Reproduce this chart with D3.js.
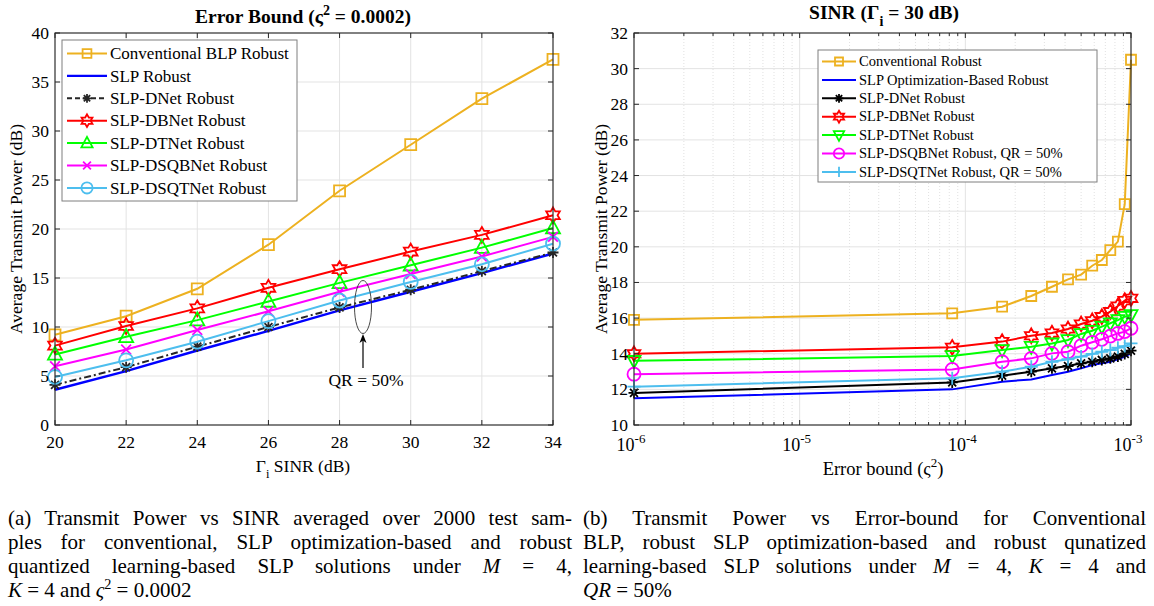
<!DOCTYPE html>
<html><head><meta charset="utf-8">
<script src="https://cdn.jsdelivr.net/npm/d3@7"></script>
<style>
body{margin:0;background:#fff}
svg{display:block}
text{font-family:"Liberation Serif","Times New Roman",serif;fill:#000}
</style>
</head><body>
<svg id="fig" width="1154" height="606"></svg>
<script>
// ---------- Panel (a): transmit power vs SINR, error bound 0.0002 ----------
const sinrDb = [20, 22, 24, 26, 28, 30, 32, 34];
const convBlpA = [9.2, 11.1, 13.9, 18.4, 23.9, 28.6, 33.3, 37.3];
const slpA     = [3.6, 5.5, 7.6, 9.6, 11.7, 13.6, 15.5, 17.5];
const dnetA    = [4.1, 5.9, 8.0, 10.0, 12.0, 13.8, 15.7, 17.6];
const dbnetA   = [8.1, 10.1, 11.9, 14.0, 15.9, 17.7, 19.4, 21.4];
const dtnetA   = [7.2, 9.0, 10.7, 12.6, 14.5, 16.3, 18.1, 20.1];
const dsqbA    = [6.0, 7.7, 9.7, 11.6, 13.6, 15.4, 17.2, 19.2];
const dsqtA    = [4.9, 6.6, 8.5, 10.6, 12.7, 14.6, 16.4, 18.5];
const yTicksA  = [0, 5, 10, 15, 20, 25, 30, 35, 40];

// ---------- Panel (b): transmit power vs error bound, SINR 30 dB ----------
const errBound = [1e-6, 8.333e-5, 1.667e-4, 2.5e-4, 3.333e-4, 4.167e-4, 5e-4,
                  5.833e-4, 6.667e-4, 7.5e-4, 8.333e-4, 9.167e-4, 1e-3];
const convB  = [15.9, 16.27, 16.64, 17.24, 17.76, 18.17, 18.44, 18.94, 19.26, 19.82, 20.29, 22.4, 30.5];
const slpB   = [11.5, 12.0, 12.43, 12.56, 12.81, 12.99, 13.18, 13.37, 13.46, 13.55, 13.69, 13.84, 14.02];
const dnetB  = [11.8, 12.39, 12.77, 12.99, 13.18, 13.31, 13.46, 13.55, 13.65, 13.74, 13.84, 13.99, 14.17];
const dbnetB = [14.0, 14.36, 14.68, 15.01, 15.16, 15.39, 15.67, 15.85, 16.08, 16.36, 16.68, 16.98, 17.11];
const dtnetB = [13.6, 13.87, 14.21, 14.39, 14.58, 14.77, 15.11, 15.29, 15.52, 15.71, 15.89, 16.08, 16.17];
const dsqbB  = [12.85, 13.12, 13.55, 13.74, 14.02, 14.11, 14.45, 14.64, 14.81, 14.99, 15.14, 15.24, 15.43];
const dsqtB  = [12.15, 12.62, 12.99, 13.27, 13.55, 13.69, 13.84, 13.99, 14.11, 14.21, 14.34, 14.43, 14.58];
const yTicksB = [10, 12, 14, 16, 18, 20, 22, 24, 26, 28, 30, 32];
const xTicksB = [1e-6, 1e-5, 1e-4, 1e-3];

const C = {
  orange: "#EDB120", blue: "#0000FF", black: "#000000", dark: "#262626",
  red: "#FF0000", green: "#00FF00", magenta: "#FF00FF", cyan: "#4DBEEE"
};

const svg = d3.select("#fig");

// ---------- marker shapes (outline only) ----------
function markerPath(type, s) {
  const p = d3.path();
  const r = s / 2;
  if (type === "square") { p.rect(-r, -r, s, s); }
  else if (type === "circle") { p.arc(0, 0, r, 0, 2 * Math.PI); }
  else if (type === "triUp" || type === "triDown") {
    const k = type === "triUp" ? 1 : -1;
    p.moveTo(0, -k * r * 1.1); p.lineTo(r, k * r * 0.75); p.lineTo(-r, k * r * 0.75); p.closePath();
  }
  else if (type === "hexagram") {
    const R = r * 1.05, ri = R / Math.sqrt(3);
    for (let i = 0; i < 12; i++) {
      const a = -Math.PI / 2 + i * Math.PI / 6;
      const rr = i % 2 === 0 ? R : ri;
      const x = rr * Math.cos(a), y = rr * Math.sin(a);
      if (i === 0) p.moveTo(x, y); else p.lineTo(x, y);
    }
    p.closePath();
  }
  else if (type === "x") {
    const q = r * 0.75;
    p.moveTo(-q, -q); p.lineTo(q, q); p.moveTo(-q, q); p.lineTo(q, -q);
  }
  else if (type === "plus") {
    p.moveTo(-r, 0); p.lineTo(r, 0); p.moveTo(0, -r); p.lineTo(0, r);
  }
  else if (type === "asterisk") {
    const q = r * 0.72;
    p.moveTo(-r, 0); p.lineTo(r, 0); p.moveTo(0, -r); p.lineTo(0, r);
    p.moveTo(-q, -q); p.lineTo(q, q); p.moveTo(-q, q); p.lineTo(q, -q);
  }
  return p.toString();
}

// ---------- generic axes drawing ----------
function drawPanel(cfg) {
  const g = svg.append("g");
  const { x, y, left, right, top, bottom } = cfg;

  // grid
  if (cfg.minorX) {
    g.selectAll(".gmx").data(cfg.minorX).join("line")
      .attr("x1", d => x(d)).attr("x2", d => x(d)).attr("y1", top).attr("y2", bottom)
      .attr("stroke", "#d9d9d9").attr("stroke-width", 0.8).attr("stroke-dasharray", "1,2");
  }
  g.selectAll(".gx").data(cfg.xTicks).join("line")
    .attr("x1", d => x(d)).attr("x2", d => x(d)).attr("y1", top).attr("y2", bottom)
    .attr("stroke", "#e3e3e3").attr("stroke-width", 1);
  g.selectAll(".gy").data(cfg.yTicks).join("line")
    .attr("x1", left).attr("x2", right).attr("y1", d => y(d)).attr("y2", d => y(d))
    .attr("stroke", "#e3e3e3").attr("stroke-width", 1);

  // series
  cfg.series.forEach(s => {
    const pts = cfg.xs.map((xv, i) => [x(xv), y(s.values[i])]);
    g.append("path").attr("d", d3.line()(pts))
      .attr("fill", "none").attr("stroke", s.color).attr("stroke-width", s.width || 2)
      .attr("stroke-dasharray", s.dash || null);
    if (s.marker) {
      g.selectAll(null).data(pts).join("path")
        .attr("transform", d => `translate(${d[0]},${d[1]})`)
        .attr("d", markerPath(s.marker, s.msize || 11))
        .attr("fill", "none").attr("stroke", s.mcolor || s.color).attr("stroke-width", 1.8);
    }
  });

  // box + ticks
  const ax = g.append("g");
  ax.append("rect").attr("x", left).attr("y", top).attr("width", right - left).attr("height", bottom - top)
    .attr("fill", "none").attr("stroke", "#262626").attr("stroke-width", 1.1);
  const tl = 5;
  const xt = cfg.xTicks.concat(cfg.minorTickX || []);
  xt.forEach(d => {
    const len = cfg.xTicks.includes(d) ? tl : 3;
    ax.append("line").attr("x1", x(d)).attr("x2", x(d)).attr("y1", bottom).attr("y2", bottom - len).attr("stroke", "#262626");
    ax.append("line").attr("x1", x(d)).attr("x2", x(d)).attr("y1", top).attr("y2", top + len).attr("stroke", "#262626");
  });
  cfg.yTicks.forEach(d => {
    ax.append("line").attr("x1", left).attr("x2", left + tl).attr("y1", y(d)).attr("y2", y(d)).attr("stroke", "#262626");
    ax.append("line").attr("x1", right).attr("x2", right - tl).attr("y1", y(d)).attr("y2", y(d)).attr("stroke", "#262626");
  });
  // y tick labels
  ax.selectAll(".yl").data(cfg.yTicks).join("text")
    .attr("x", left - 6).attr("y", d => y(d) + 6).attr("text-anchor", "end")
    .style("font-size", "17.5px").text(d => d);
  return g;
}

// ---------- panel (a) ----------
const xA = d3.scaleLinear().domain([20, 34]).range([55, 553]);
const yA = d3.scaleLinear().domain([0, 40]).range([425, 33]);
const seriesA = [
  { name: "Conventional BLP Robust", values: convBlpA, color: C.orange, marker: "square", msize: 11 },
  { name: "SLP Robust", values: slpA, color: C.blue, width: 2.4 },
  { name: "SLP-DNet Robust", values: dnetA, color: C.dark, dash: "7,3,2,3", marker: "asterisk", msize: 11, width: 2 },
  { name: "SLP-DBNet Robust", values: dbnetA, color: C.red, marker: "hexagram", msize: 15 },
  { name: "SLP-DTNet Robust", values: dtnetA, color: C.green, marker: "triUp", msize: 14 },
  { name: "SLP-DSQBNet Robust", values: dsqbA, color: C.magenta, marker: "x", msize: 13 },
  { name: "SLP-DSQTNet Robust", values: dsqtA, color: C.cyan, marker: "circle", msize: 14 }
];
const gA = drawPanel({ x: xA, y: yA, left: 55, right: 553, top: 33, bottom: 425,
  xs: sinrDb, xTicks: sinrDb, yTicks: yTicksA, series: seriesA });
gA.selectAll(".xl").data(sinrDb).join("text")
  .attr("x", d => xA(d)).attr("y", 448).attr("text-anchor", "middle")
  .style("font-size", "17.5px").text(d => d);

// ellipse + arrow annotation for the quantized group
gA.append("ellipse").attr("cx", 363).attr("cy", 307).attr("rx", 8.5).attr("ry", 26.5)
  .attr("fill", "none").attr("stroke", "#333").attr("stroke-width", 0.9);
gA.append("line").attr("x1", 363).attr("x2", 363).attr("y1", 368).attr("y2", 338)
  .attr("stroke", "#000").attr("stroke-width", 1.2);
gA.append("path").attr("d", "M363,334 L359.5,343 L363,340.5 L366.5,343 Z").attr("fill", "#000");
gA.append("text").attr("x", 366).attr("y", 386).attr("text-anchor", "middle")
  .style("font-size", "17.5px").text("QR = 50%");

// ---------- panel (b) ----------
const xB = d3.scaleLog().domain([1e-6, 1e-3]).range([634, 1131]);
const yB = d3.scaleLinear().domain([10, 32]).range([425, 33]);
const minorB = [];
[1e-6, 1e-5, 1e-4].forEach(dec => { for (let k = 2; k <= 9; k++) minorB.push(dec * k); });
const seriesB = [
  { name: "Conventional Robust", values: convB, color: C.orange, marker: "square", msize: 10 },
  { name: "SLP Optimization-Based Robust", values: slpB, color: C.blue, width: 2 },
  { name: "SLP-DNet Robust", values: dnetB, color: C.black, marker: "asterisk", msize: 11 },
  { name: "SLP-DBNet Robust", values: dbnetB, color: C.red, marker: "hexagram", msize: 14 },
  { name: "SLP-DTNet Robust", values: dtnetB, color: C.green, marker: "triDown", msize: 13 },
  { name: "SLP-DSQBNet Robust, QR = 50%", values: dsqbB, color: C.magenta, marker: "circle", msize: 13 },
  { name: "SLP-DSQTNet Robust, QR = 50%", values: dsqtB, color: C.cyan, marker: "plus", msize: 13 }
];
const gB = drawPanel({ x: xB, y: yB, left: 634, right: 1131, top: 33, bottom: 425,
  xs: errBound, xTicks: xTicksB, yTicks: yTicksB, minorX: minorB, minorTickX: minorB, series: seriesB });
xTicksB.forEach(d => {
  const t = gB.append("text").attr("x", xB(d) - 3).attr("y", 451).attr("text-anchor", "middle").style("font-size", "18px");
  t.append("tspan").text("10");
  t.append("tspan").attr("dy", -8).style("font-size", "13px").text(Math.round(Math.log10(d)));
});

// ---------- legends ----------
function legend(series, box, opt) {
  const g = svg.append("g");
  g.append("rect").attr("x", box.x).attr("y", box.y).attr("width", box.w).attr("height", box.h)
    .attr("fill", "#fff").attr("stroke", "#7f7f7f").attr("stroke-width", 1);
  series.forEach((s, i) => {
    const cy = box.y + opt.first + i * opt.step;
    g.append("line").attr("x1", box.x + opt.l0).attr("x2", box.x + opt.l1).attr("y1", cy).attr("y2", cy)
      .attr("stroke", s.color).attr("stroke-width", s.width || 2).attr("stroke-dasharray", s.dash ? "5,3" : null);
    if (s.marker) {
      g.append("path").attr("transform", `translate(${box.x + (opt.l0 + opt.l1) / 2},${cy})`)
        .attr("d", markerPath(s.marker, (s.msize || 11) * 0.8))
        .attr("fill", "none").attr("stroke", s.color).attr("stroke-width", 1.8);
    }
    g.append("text").attr("x", box.x + opt.tx).attr("y", cy + opt.fs * 0.33)
      .style("font-size", opt.fs + "px").text(s.name);
  });
}
legend(seriesA, { x: 62, y: 40, w: 235, h: 161 }, { first: 13.5, step: 22.4, l0: 5, l1: 45, tx: 48, fs: 17 });
legend(seriesB, { x: 818, y: 50, w: 279, h: 132 }, { first: 11.5, step: 18.4, l0: 4, l1: 38, tx: 41, fs: 14.5 });

// ---------- titles and axis labels ----------
function title(x, y, parts) {
  const t = svg.append("text").attr("x", x).attr("y", y).attr("text-anchor", "middle")
    .style("font-size", "19.5px").style("font-weight", "bold");
  parts.forEach(p => {
    const s = t.append("tspan").text(p.t);
    if (p.dy) s.attr("dy", p.dy);
    if (p.fs) s.style("font-size", p.fs);
  });
  return t;
}
title(303, 23, [{ t: "Error Bound (ς" }, { t: "2", dy: -8, fs: "14px" }, { t: " = 0.0002)", dy: 8 }]);
title(884, 19, [{ t: "SINR (Γ" }, { t: "i", dy: 7, fs: "14px" }, { t: " = 30 dB)", dy: -7 }]);

function yLabel(x, y) {
  svg.append("text").attr("transform", `translate(${x},${y}) rotate(-90)`).attr("text-anchor", "middle")
    .style("font-size", "17.5px").text("Average Transmit Power (dB)");
}
yLabel(22, 229);
yLabel(607, 229);

const xlA = svg.append("text").attr("x", 303).attr("y", 472).attr("text-anchor", "middle").style("font-size", "17.5px");
xlA.append("tspan").text("Γ");
xlA.append("tspan").attr("dy", 6).style("font-size", "12.5px").text("i");
xlA.append("tspan").attr("dy", -6).text(" SINR (dB)");

const xlB = svg.append("text").attr("x", 883).attr("y", 475).attr("text-anchor", "middle").style("font-size", "18.5px");
xlB.append("tspan").text("Error bound (ς");
xlB.append("tspan").attr("dy", -8).style("font-size", "13px").text("2");
xlB.append("tspan").attr("dy", 8).text(")");

// ---------- captions (justified) ----------
const capA = [
  [{ t: "(a) Transmit Power vs SINR averaged over 2000 test sam-" }],
  [{ t: "ples for conventional, SLP optimization-based and robust" }],
  [{ t: "quantized learning-based SLP solutions under " }, { t: "M", i: 1 }, { t: " = 4," }],
  [{ t: "K", i: 1 }, { t: " = 4 and " }, { t: "ς" , i: 1 }, { t: "2", dy: -8, sup: 1 }, { t: " = 0.0002", dy: 8 }]
];
const capB = [
  [{ t: "(b) Transmit Power vs Error-bound for Conventional" }],
  [{ t: "BLP, robust SLP optimization-based and robust qunatized" }],
  [{ t: "learning-based SLP solutions under " }, { t: "M", i: 1 }, { t: " = 4, " }, { t: "K", i: 1 }, { t: " = 4 and" }],
  [{ t: "QR", i: 1 }, { t: " = 50%" }]
];

function makeLine(x, y, parts, fs) {
  const t = svg.append("text").attr("x", x).attr("y", y).style("font-size", fs + "px");
  parts.forEach(p => {
    const s = t.append("tspan").text(p.t);
    if (p.i) s.style("font-style", "italic");
    if (p.dy) s.attr("dy", p.dy);
    if (p.sup) s.style("font-size", (fs * 0.68) + "px");
  });
  return t;
}
// caption size: fill the column with the tightest line, but keep clear of the next line
const probe = [capA[1], capB[1]].map(p => {
  const t = makeLine(0, -50, p, 100);
  const w = t.node().getComputedTextLength();
  t.remove();
  return w / 100;
});
const capFs = Math.min(21, 564 / probe[0], 563 / probe[1]);

function caption(lines, x, width) {
  lines.forEach((p, i) => {
    const t = makeLine(x, 525 + i * 24, p, capFs);
    if (i < lines.length - 1) {
      const len = t.node().getComputedTextLength();
      const spaces = p.map(q => q.t).join("").split(" ").length - 1;
      if (spaces > 0) t.style("word-spacing", ((width - len) / spaces) + "px");
    }
  });
}
caption(capA, 8, 564);
caption(capB, 583, 563);
</script>
</body></html>
